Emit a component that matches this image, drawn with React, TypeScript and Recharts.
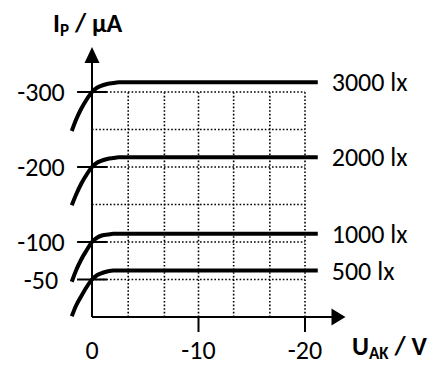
import React from 'react';
import { LineChart, Line, XAxis, YAxis, ReferenceLine, ReferenceDot } from 'recharts';

// anode voltage U_AK (V) and photocurrent I_P (µA) per illuminance
const voltages = [1.9, 1.5, 1.0, 0.5, 0, -0.5, -1, -1.5, -2, -2.5, -3, -21.2];
const i500 = [-1, -15, -28, -40, -50, -56, -59, -61, -62, -62, -62, -62];
const i1000 = [-47, -62, -77, -89, -100, -106, -109, -110, -111, -111, -111, -111];
const i2000 = [-149, -163, -178, -190, -200, -206, -209, -211, -212, -213, -213, -213];
const i3000 = [-248, -263, -278, -290, -300, -306, -309, -311, -312, -313, -313, -313];
const seriesNames = ['500 lx', '1000 lx', '2000 lx', '3000 lx'];

const xTicks = [0, -10, -20];
const yTicks = [-50, -100, -200, -300];
const gridU = [-3.4, -6.8, -10, -13.3, -16.7, -20];
const gridI = [-50, -100, -150, -200, -250, -300];

const data = voltages.map((u, i) => ({
  u,
  s500: i500[i],
  s1000: i1000[i],
  s2000: i2000[i],
  s3000: i3000[i],
}));

const FONT = 'Carlito, Calibri, Lato, sans-serif';
const INK = '#000';
const FS = 26;

const makeLabel = (name: string) => (p: any) => {
  if (p.index !== data.length - 1) return <g />;
  return (
    <text x={p.x + 14} y={p.y} dy="0.35em" fontSize={FS} fontFamily={FONT} fill={INK}>
      {name}
    </text>
  );
};

const XTick = (p: any) => (
  <text x={p.x} y={350} dy="0.35em" textAnchor="middle" fontSize={FS} fontFamily={FONT} fill={INK}>
    {p.payload.value}
  </text>
);

const YTick = (p: any) => (
  <text x={41} y={p.y} dy="0.35em" textAnchor="middle" fontSize={FS} fontFamily={FONT} fill={INK}>
    {p.payload.value}
  </text>
);

const UpArrow = (p: any) => (
  <path d={`M${p.cx},${p.cy} L${p.cx - 7.5},${p.cy + 16} L${p.cx + 7.5},${p.cy + 16} Z`} fill="#000" />
);

const RightArrow = (p: any) => (
  <path d={`M${p.cx},${p.cy} L${p.cx - 14},${p.cy - 8.5} L${p.cx - 14},${p.cy + 8.5} Z`} fill="#000" />
);

const dotted = { stroke: '#000', strokeWidth: 1.6, strokeDasharray: '1.6 2' };

export default function App() {
  const keys = ['s500', 's1000', 's2000', 's3000'];
  return (
    <div style={{ position: 'absolute', left: 0, top: 0, width: 448, height: 365, background: '#fff' }}>
      <LineChart width={448} height={365} data={data} margin={{ top: 47, right: 100.4, bottom: 0, left: 10.7 }}>
        <XAxis
          dataKey="u"
          type="number"
          domain={[-24, 2]}
          reversed
          ticks={xTicks}
          axisLine={false}
          tickLine={false}
          height={33}
          tick={<XTick />}
        />
        <YAxis
          type="number"
          domain={[-360, 20]}
          reversed
          ticks={yTicks}
          axisLine={false}
          tickLine={false}
          width={60}
          tick={<YTick />}
        />
        {gridI.map((v) => (
          <ReferenceLine key={'h' + v} segment={[{ x: 0, y: v }, { x: -20, y: v }]} {...dotted} />
        ))}
        {gridU.map((v) => (
          <ReferenceLine key={'v' + v} segment={[{ x: v, y: 0 }, { x: v, y: -300 }]} {...dotted} />
        ))}
        {yTicks.map((v) => (
          <ReferenceLine key={'yt' + v} segment={[{ x: 1.4, y: v }, { x: -1.4, y: v }]} stroke="#000" strokeWidth={2} />
        ))}
        {xTicks.filter((v) => v !== 0).map((v) => (
          <ReferenceLine key={'xt' + v} segment={[{ x: v, y: 0 }, { x: v, y: 20 }]} stroke="#000" strokeWidth={2} />
        ))}
        <ReferenceLine segment={[{ x: 0, y: 0 }, { x: 0, y: -340 }]} stroke="#000" strokeWidth={2} />
        <ReferenceLine segment={[{ x: 0, y: 0 }, { x: -22.6, y: 0 }]} stroke="#000" strokeWidth={2} />
        <ReferenceDot x={0} y={-360} shape={<UpArrow />} />
        <ReferenceDot x={-23.8} y={0} shape={<RightArrow />} />
        {keys.map((k, i) => (
          <Line
            key={k}
            dataKey={k}
            type="monotone"
            stroke="#000"
            strokeWidth={4}
            dot={false}
            isAnimationActive={false}
            label={makeLabel(seriesNames[i])}
          />
        ))}
      </LineChart>
      <svg width={448} height={365} style={{ position: 'absolute', left: 0, top: 0, pointerEvents: 'none' }}>
        <text x={53} y={32} fontSize={FS} fontWeight="bold" fontFamily={FONT} fill={INK}>
          I<tspan fontSize={17} dy={4}>P</tspan>
          <tspan fontSize={FS} dy={-4}> / µA</tspan>
        </text>
        <text x={352} y={355} fontSize={FS} fontWeight="bold" fontFamily={FONT} fill={INK}>
          U<tspan fontSize={17} dy={4}>AK</tspan>
          <tspan fontSize={FS} dy={-4}> / V</tspan>
        </text>
      </svg>
    </div>
  );
}
